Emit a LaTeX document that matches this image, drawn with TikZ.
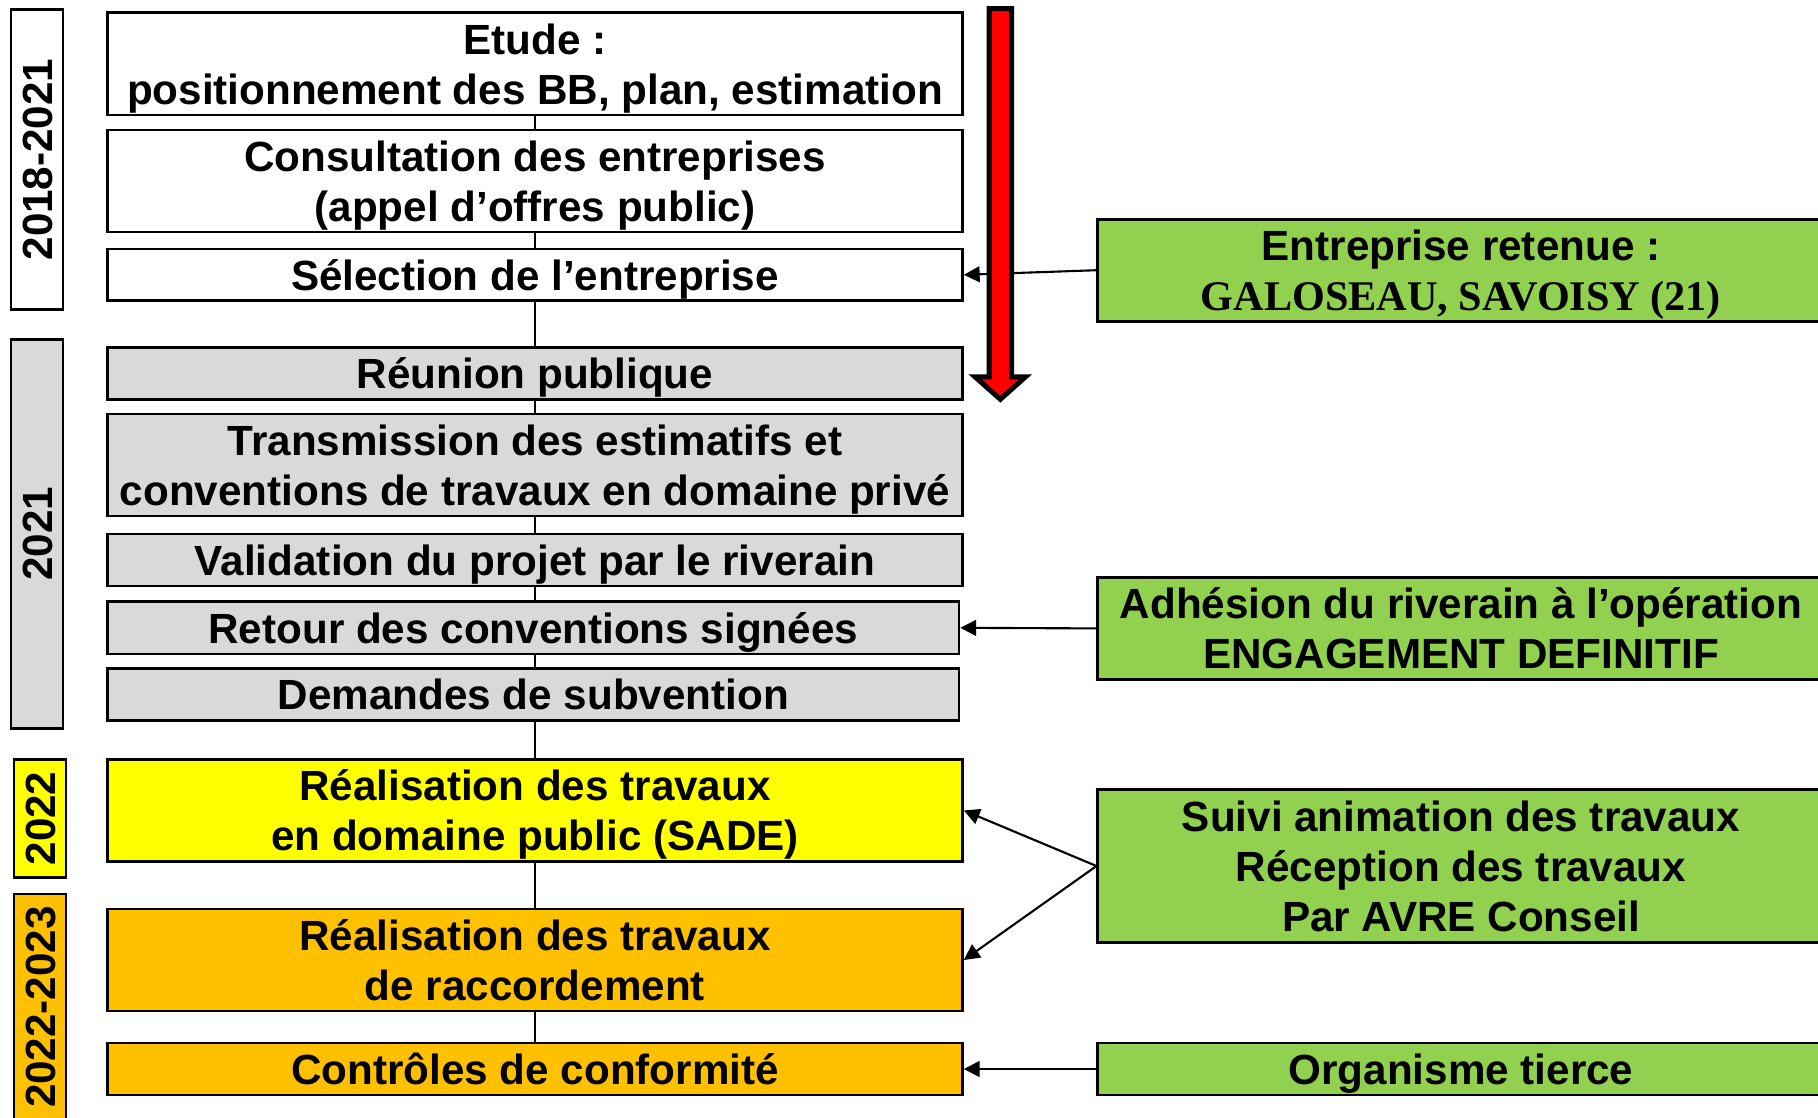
\documentclass[tikz,border=0pt]{standalone}
\usepackage{fontspec}
\setmainfont{Liberation Sans}
\newfontfamily\galfont{Liberation Serif}
\usetikzlibrary{arrows.meta,backgrounds}
\definecolor{gris}{HTML}{D9D9D9}
\definecolor{jaune}{HTML}{FFFF00}
\definecolor{orangeb}{HTML}{FFC000}
\definecolor{vert}{HTML}{92D050}
\definecolor{rouge}{HTML}{FF0000}

\begin{document}
\begin{tikzpicture}[
      x=0.01cm, y=0.01cm,
      every node/.style={inner sep=0pt, align=center, font=\bfseries\fontsize{12}{14.2}\selectfont,
        execute at begin node={\rule{0pt}{11.75pt}},
        execute at end node={\rule[-3pt]{0pt}{3pt}}},
      lignes/.style={execute at begin node={\rule{0pt}{#1}}},
      etape/.style={draw, line width=0.75pt, minimum width=8.545cm, minimum height=0.51cm},
      deux/.style={lignes=25.95pt, minimum height=1.02cm},
      annee/.style={draw, line width=0.75pt, rotate=90, minimum height=0.51cm},
      acteur/.style={draw, line width=0.75pt, fill=vert, minimum width=7.26cm},
      fleche/.style={-{Triangle[length=4.5pt,width=4.5pt]}, line width=0.6pt}
    ]
      \useasboundingbox (0,0) rectangle (1818,-1117);
      \clip (0,0) rectangle (1818,-1117);

      \node[annee, fill=white, minimum width=3.003cm] (a1) at (37.1,-159.5) {2018-2021};
      \node[annee, fill=gris, minimum width=3.884cm] (a2) at (37.1,-533.9) {2021};
      \node[annee, fill=jaune, minimum width=1.183cm, minimum height=0.52cm] (a3) at (40,-818.5) {2022};
      \node[annee, fill=orangeb, minimum width=2.26cm, minimum height=0.52cm] (a4) at (40,-1007) {2022-2023};

      \node[etape, deux, fill=white] (etude) at (535,-63.8) {Etude :\\positionnement des BB, plan, estimation};
      \node[etape, deux, fill=white] (consult) at (535,-180.9) {Consultation des entreprises\\(appel d’offres public)};
      \node[etape, fill=white] (selection) at (535,-274.8) {Sélection de l’entreprise};
      \node[etape, fill=gris] (reunion) at (535,-373.3) {Réunion publique};
      \node[etape, deux, fill=gris] (transmission) at (535,-464.9) {Transmission des estimatifs et\\conventions de travaux en domaine privé};
      \node[etape, fill=gris] (validation) at (535,-560) {Validation du projet par le riverain};
      \node[etape, fill=gris, minimum width=8.51cm, minimum height=0.52cm] (retour) at (533.3,-627.8) {Retour des conventions signées};
      \node[etape, fill=gris, minimum width=8.51cm] (demandes) at (533.3,-694.5) {Demandes de subvention};
      \node[etape, deux, fill=jaune] (public) at (535,-810.4) {Réalisation des travaux\\en domaine public (SADE)};
      \node[etape, deux, fill=orangeb] (raccord) at (535,-960) {Réalisation des travaux\\de raccordement};
      \node[etape, fill=orangeb] (controle) at (535,-1069) {Contrôles de conformité};

      \begin{scope}[on background layer]
        \draw[line width=0.75pt] (etude.south) -- (controle.north);
      \end{scope}

      \node[acteur, deux] (retenue) at (1461,-270.2) {Entreprise retenue :\\{\galfont\bfseries GALOSEAU, SAVOISY (21)}};
      \node[acteur, deux] (adhesion) at (1461,-628.4) {Adhésion du riverain à l’opération\\ENGAGEMENT DEFINITIF};
      \node[acteur, lignes=40.15pt, minimum height=1.53cm] (suivi) at (1461,-866) {Suivi animation des travaux\\Réception des travaux\\Par AVRE Conseil};
      \node[acteur, minimum height=0.51cm] (tierce) at (1461,-1069) {Organisme tierce};

      \draw[fleche] (retenue.west) -- (selection.east);
      \draw[fleche] (adhesion.west) -- (retour.east);
      \draw[fleche] (suivi.west) -- (public.east);
      \draw[fleche] (suivi.west) -- (raccord.east);
      \draw[fleche] (tierce.west) -- (controle.east);

      \draw[fill=rouge, line width=1.42pt, line join=miter]
        (989.2,-8.5) -- (1011.5,-8.5) -- (1011.5,-376.8) -- (1025.5,-376.8)
        -- (1000.3,-399.3) -- (975,-376.8) -- (989.2,-376.8) -- cycle;
    \end{tikzpicture}
\end{document}
